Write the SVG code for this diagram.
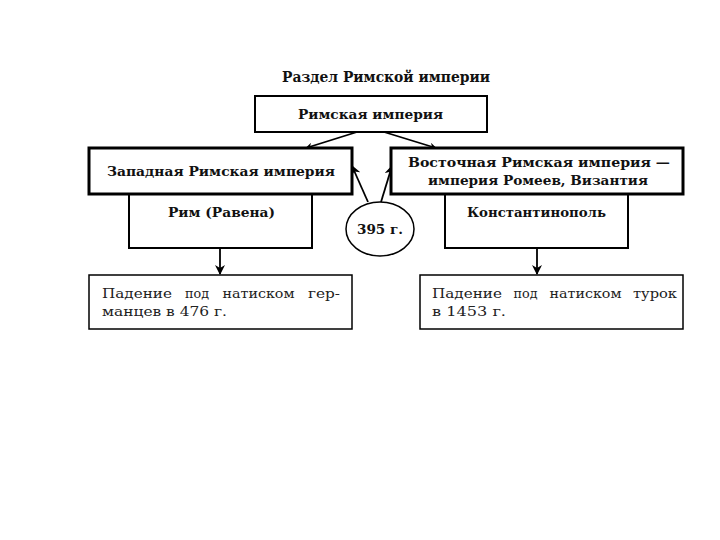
<svg xmlns="http://www.w3.org/2000/svg" width="720" height="540" viewBox="0 0 720 540">
<defs>
<style>
.b{fill:#fff;stroke:#000}
.t{font-family:"DejaVu Serif","Liberation Serif",serif;font-size:13px;fill:#111}
.r{font-size:13px;fill:#222}
.bd{font-weight:bold}
.ln{stroke:#000;stroke-width:1.8;fill:none}
</style>
<marker id="ah" viewBox="0 0 10 10" refX="9" refY="5" markerWidth="7" markerHeight="7" orient="auto" markerUnits="userSpaceOnUse">
<path d="M0,0 L10,5 L0,10 L3,5 z" fill="#000"/>
</marker>
<marker id="ah2" viewBox="0 0 10 10" refX="9" refY="5" markerWidth="10" markerHeight="10" orient="auto" markerUnits="userSpaceOnUse">
<path d="M0,0 L10,5 L0,10 L3,5 z" fill="#000"/>
</marker>
</defs>
<rect width="720" height="540" fill="#fff"/>
<text class="t bd" x="282" y="82" style="font-size:14px" textLength="208" lengthAdjust="spacingAndGlyphs">Раздел Римской империи</text>
<g id="connectors">
<line class="ln" x1="357" y1="132" x2="306" y2="148" marker-end="url(#ah)" stroke-width="1.5"/>
<line class="ln" x1="384" y1="132" x2="436" y2="148" marker-end="url(#ah)" stroke-width="1.5"/>
<line class="ln" x1="368" y1="202" x2="352" y2="166" marker-end="url(#ah2)"/>
<line class="ln" x1="381" y1="202" x2="392" y2="166" marker-end="url(#ah2)"/>
<line class="ln" x1="220" y1="248" x2="220" y2="274" marker-end="url(#ah2)"/>
<line class="ln" x1="537" y1="248" x2="537" y2="274" marker-end="url(#ah2)"/>
</g>
<g id="rome">
<rect class="b" x="255" y="96" width="232" height="36" stroke-width="2"/>
<text class="t bd" x="298" y="119" textLength="145" lengthAdjust="spacingAndGlyphs">Римская империя</text>
</g>
<g id="rim">
<rect class="b" x="129" y="194" width="183" height="54" stroke-width="2"/>
<text class="t bd" x="168" y="217" textLength="107" lengthAdjust="spacingAndGlyphs">Рим (Равена)</text>
</g>
<g id="west">
<rect class="b" x="89" y="148" width="263" height="46" stroke-width="3"/>
<text class="t bd" x="107" y="176" textLength="228" lengthAdjust="spacingAndGlyphs">Западная Римская империя</text>
</g>
<g id="konst">
<rect class="b" x="445" y="194" width="183" height="54" stroke-width="2"/>
<text class="t bd" x="467" y="217" textLength="139" lengthAdjust="spacingAndGlyphs">Константинополь</text>
</g>
<g id="east">
<rect class="b" x="391" y="148" width="292" height="46" stroke-width="3"/>
<text class="t bd" x="408" y="167" textLength="262" lengthAdjust="spacingAndGlyphs">Восточная Римская империя —</text>
<text class="t bd" x="428" y="185" textLength="220" lengthAdjust="spacingAndGlyphs">империя Ромеев, Византия</text>
</g>
<g id="year">
<ellipse class="b" cx="380" cy="229" rx="34" ry="27" stroke-width="1.5"/>
<text class="t bd" x="357" y="234" textLength="46" lengthAdjust="spacingAndGlyphs">395 г.</text>
</g>
<g id="westfall">
<rect class="b" x="89" y="275" width="263" height="54" stroke-width="1.5"/>
<text class="t r" y="298"><tspan x="102" textLength="70" lengthAdjust="spacingAndGlyphs">Падение</tspan><tspan x="185" textLength="24" lengthAdjust="spacingAndGlyphs">под</tspan><tspan x="222.5" textLength="72" lengthAdjust="spacingAndGlyphs">натиском</tspan><tspan x="308" textLength="32" lengthAdjust="spacingAndGlyphs">гер-</tspan></text>
<text class="t r" x="102" y="316" textLength="125" lengthAdjust="spacingAndGlyphs">манцев в 476 г.</text>
</g>
<g id="eastfall">
<rect class="b" x="420" y="275" width="263" height="54" stroke-width="1.5"/>
<text class="t r" y="298"><tspan x="432" textLength="70" lengthAdjust="spacingAndGlyphs">Падение</tspan><tspan x="513.5" textLength="24" lengthAdjust="spacingAndGlyphs">под</tspan><tspan x="549.5" textLength="72" lengthAdjust="spacingAndGlyphs">натиском</tspan><tspan x="633" textLength="44" lengthAdjust="spacingAndGlyphs">турок</tspan></text>
<text class="t r" x="432" y="316" textLength="74" lengthAdjust="spacingAndGlyphs">в 1453 г.</text>
</g>
</svg>
